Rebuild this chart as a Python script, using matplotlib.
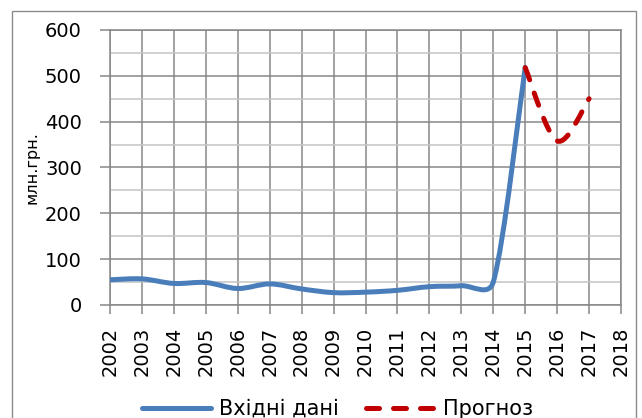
import numpy as np
import matplotlib
matplotlib.use('Agg')
import matplotlib.pyplot as plt
from matplotlib.path import Path
from matplotlib.patches import PathPatch, Rectangle
from matplotlib.lines import Line2D

# ---- data ----
years = [2002, 2003, 2004, 2005, 2006, 2007, 2008, 2009, 2010, 2011, 2012, 2013, 2014, 2015]
input_values = [55, 57, 47, 49, 36, 46, 35, 27, 28, 32, 40, 42, 50, 518]
forecast_years = [2015, 2016, 2017]
forecast_values = [518, 358, 450]
x_ticks = list(range(2002, 2019))
y_ticks = [0, 100, 200, 300, 400, 500, 600]
y_label = 'млн.грн.'
legend_labels = ['Вхідні дані', 'Прогноз']

BLUE = '#4A7EBB'
RED = '#C00000'
GRID = '#878787'
MINOR = '#C4C4C4'

plt.rcParams['font.family'] = ['DejaVu Sans']

W, H = 642, 418
fig = plt.figure(figsize=(W / 100, H / 100), dpi=100)
ax = fig.add_axes([110 / W, 1 - 305 / H, (621 - 110) / W, (305 - 30) / H])
ax.set_xlim(x_ticks[0], x_ticks[-1])
ax.set_ylim(y_ticks[0], y_ticks[-1])


def smooth_path(xs, ys):
    """Excel-like smoothed line built as cubic Bezier segments (display space)."""
    pts = ax.transData.transform(np.column_stack([xs, ys]).astype(float))
    n = len(pts)

    def tangent(i):
        a = pts[max(i - 1, 0)]
        b = pts[min(i + 1, n - 1)]
        return (b - a) / 6.0

    verts = [pts[0]]
    codes = [Path.MOVETO]
    for i in range(n - 1):
        p1, p2 = pts[i], pts[i + 1]
        seg = np.hypot(*(p2 - p1))
        t1, t2 = tangent(i), tangent(i + 1)
        l1, l2 = np.hypot(*t1), np.hypot(*t2)
        if l1 > seg / 2:
            t1 = t1 * (seg / 2) / l1
        if l2 > seg / 2:
            t2 = t2 * (seg / 2) / l2
        verts += [p1 + t1, p2 - t2, p2]
        codes += [Path.CURVE4] * 3
    verts = ax.transData.inverted().transform(np.array(verts))
    return Path(verts, codes)


LW = 3.6
DASH = (0, (2.6, 2.8))
ax.add_patch(PathPatch(smooth_path(years, input_values), fill=False, edgecolor=BLUE,
                       lw=LW, capstyle='round', joinstyle='round', zorder=3))
ax.add_patch(PathPatch(smooth_path(forecast_years, forecast_values), fill=False, edgecolor=RED,
                       lw=LW, linestyle=DASH, capstyle='round', joinstyle='round',
                       zorder=4))

# ---- axes styling ----
ax.set_xticks(x_ticks)
ax.set_xticklabels([str(v) for v in x_ticks], rotation=90)
ax.set_yticks(y_ticks)
ax.set_yticks(np.arange(0, 601, 50), minor=True)
ax.tick_params(axis='y', which='major', length=7.2, width=1.1, color=GRID, pad=13, labelsize=14)
ax.tick_params(axis='x', which='major', length=6.5, width=1.1, color=GRID, pad=9, labelsize=14)
ax.tick_params(which='minor', length=0)
ax.set_axisbelow(True)
ax.grid(which='major', color=GRID, lw=1.1)
ax.yaxis.grid(True, which='minor', color=MINOR, lw=1.1)
for s in ax.spines.values():
    s.set_color(GRID)
    s.set_linewidth(1.1)

fig.text(32 / W, 1 - 168 / H, y_label, rotation=90, ha='center', va='center', fontsize=11.5)

# chart border
fig.add_artist(Rectangle((12 / W, -0.05), (636 - 12) / W, 1.05 - 11 / H, transform=fig.transFigure,
                         fill=False, edgecolor='#8C8C8C', lw=1.0, clip_on=False))

handles = [Line2D([], [], color=BLUE, lw=LW, solid_capstyle='round'),
           Line2D([], [], color=RED, lw=LW, linestyle=DASH, dash_capstyle='round')]
fig.legend(handles, legend_labels, loc='center', bbox_to_anchor=(0.526, 1 - 409 / H),
           bbox_transform=fig.transFigure, ncol=2, frameon=False, fontsize=15,
           handlelength=3.3, handletextpad=0.4, columnspacing=1.3, borderpad=0)

fig.savefig('out.png', dpi=100)
